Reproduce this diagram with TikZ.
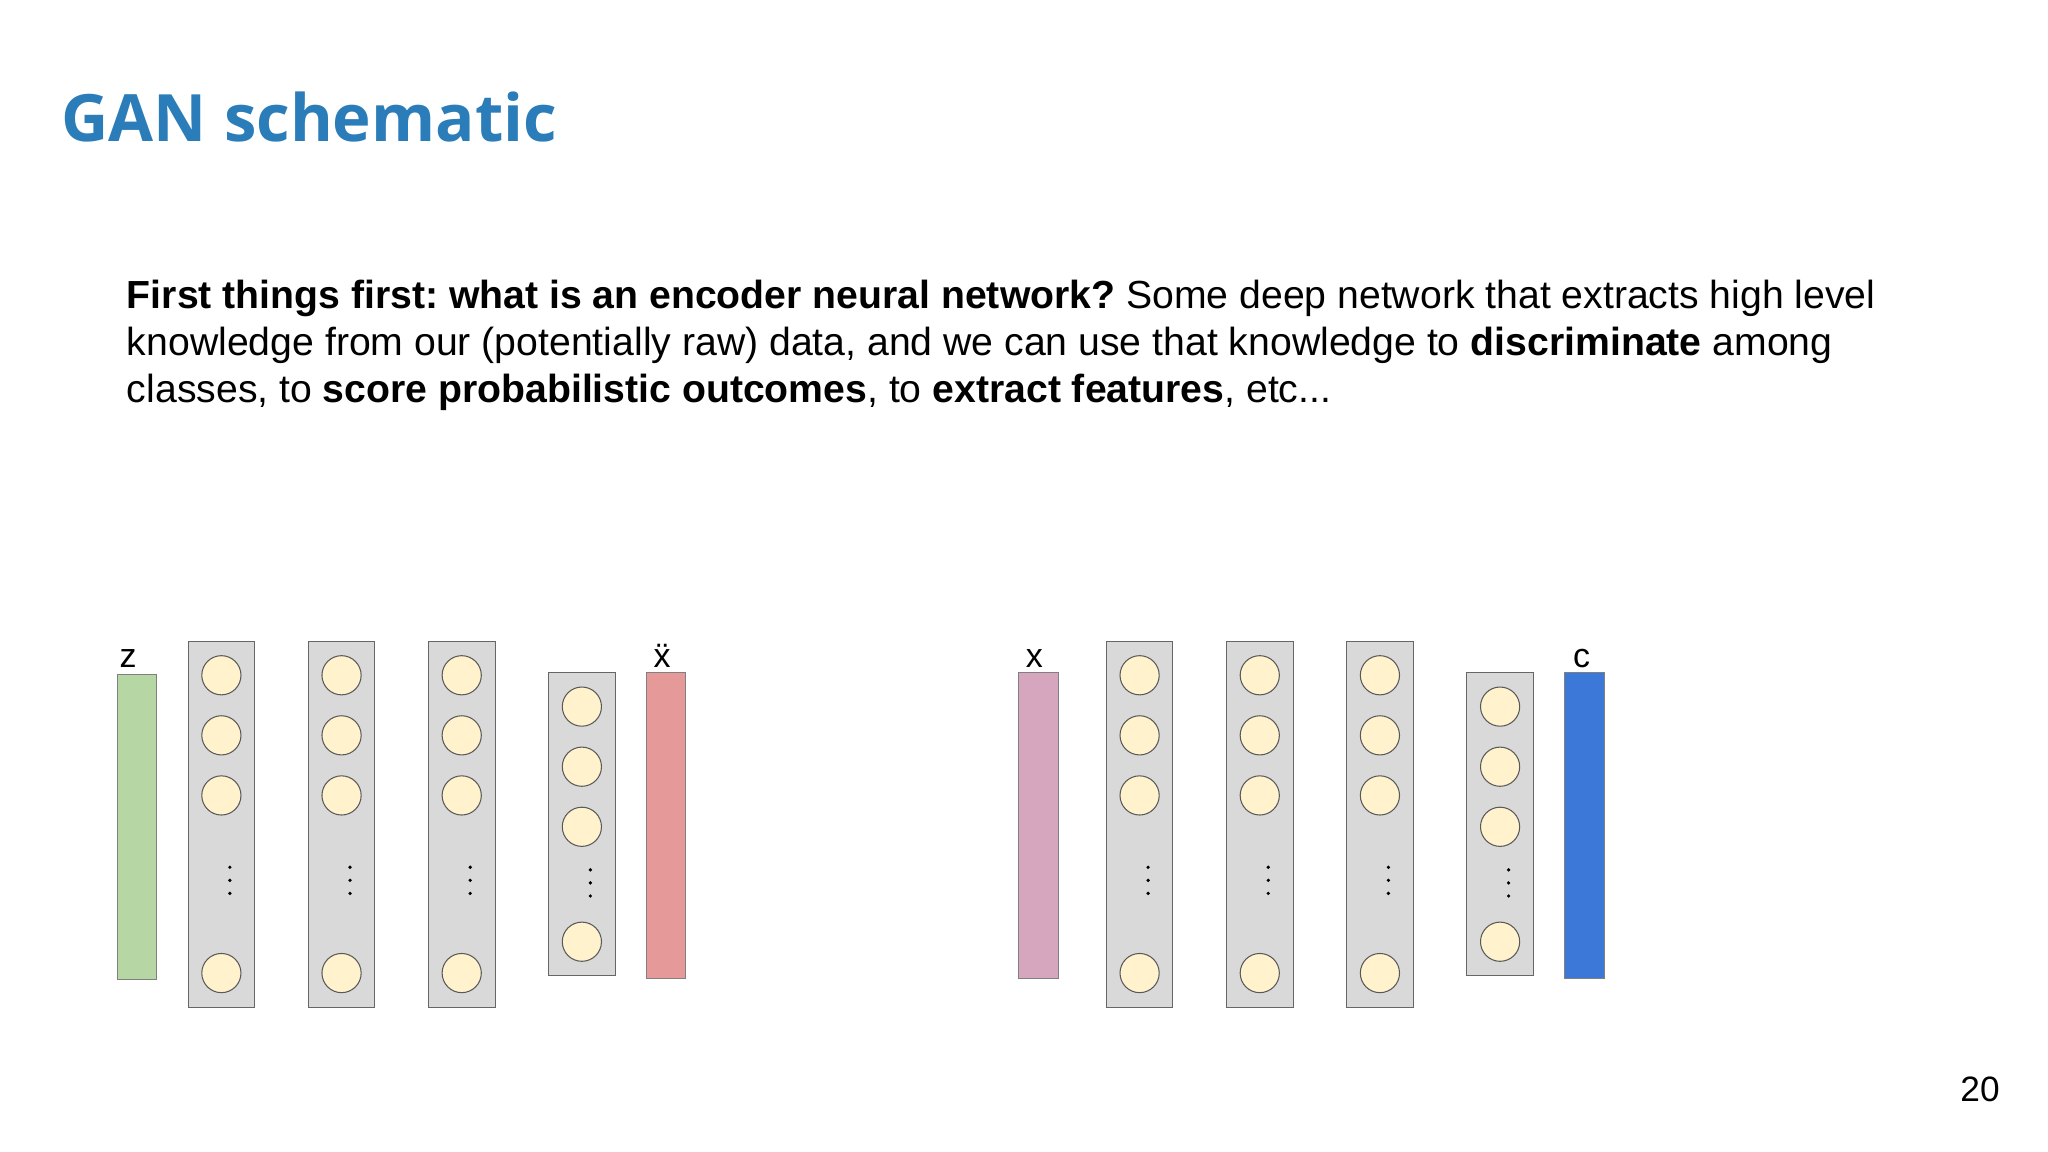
\documentclass[tikz,border=0pt]{standalone}
\usepackage{fontspec}
\setmainfont{Liberation Sans}
\newfontfamily\titlefont{Open Sans}
\begin{document}
\frenchspacing
\begin{tikzpicture}[x=1pt,y=-1pt,
  col/.style={draw=black!60,fill=black!15,line width=0.8pt},
  neuron/.style={circle,draw=black!65,fill=neurfill,minimum size=30pt,inner sep=0pt,line width=0.8pt},
  bar/.style={draw=black!50,line width=0.6pt},
  dotc/.style={fill=black},
  lbl/.style={font=\fontsize{26}{26}\selectfont,anchor=base}]
\definecolor{neurfill}{RGB}{255,242,204}
\definecolor{titleblue}{RGB}{43,125,185}
\useasboundingbox (0,0) rectangle (1568,882);
\fill[white] (0,0) rectangle (1568,882);
\node[anchor=base west,inner sep=0,text=titleblue,font=\titlefont\bfseries\fontsize{50}{50}\selectfont] (title) at (47,108) {GAN schematic};
\node[anchor=north west,inner sep=0,align=left,font=\fontsize{30}{36}\selectfont] (para) at (97,214) {\textbf{First things first: what is an encoder neural network?} Some deep network that extracts high level\\knowledge from our (potentially raw) data, and we can use that knowledge to \textbf{discriminate} among\\classes, to \textbf{score probabilistic outcomes}, to \textbf{extract features}, etc...};
\node[anchor=base,font=\fontsize{27}{27}\selectfont] (pg) at (1516,843) {20};
\definecolor{zc}{RGB}{182,215,164}\definecolor{xr}{RGB}{230,153,153}
\definecolor{xp}{RGB}{213,166,189}\definecolor{cb}{RGB}{60,120,216}
\foreach \g/\ox in {L/0,R/703}{
  \foreach \i/\cx in {1/144,2/236,3/328}{
    \draw[col] (\cx+\ox,491) rectangle (\cx+\ox+51,771);
    \foreach \j/\cy in {1/517,2/563,3/609,4/745}
      \node[neuron] (n\g\i\j) at (\cx+\ox+25.5,\cy) {};
    \foreach \k in {664,674,684} \fill[dotc] (\cx+\ox+32,\k) circle (1.4);
  }
  \draw[col] (420+\ox,515) rectangle (471+\ox,747);
  \foreach \j/\cy in {1/541,2/587,3/633,4/721}
    \node[neuron] (n\g4\j) at (445.5+\ox,\cy) {};
  \foreach \k in {666,676,686} \fill[dotc] (452+\ox,\k) circle (1.4);
}
\draw[bar,fill=zc] (90,516) rectangle (120,750);
\node[lbl] (lz) at (98,511) {z};
\draw[bar,fill=xr] (495,515) rectangle (525,749);
\node[lbl] (lx) at (507,511) {\"x};
\draw[bar,fill=xp] (780,515) rectangle (810,749);
\node[lbl] (lxr) at (792,511) {x};
\draw[bar,fill=cb] (1198,515) rectangle (1228,749);
\node[lbl] (lc) at (1211,511) {c};
\end{tikzpicture}
\end{document}
